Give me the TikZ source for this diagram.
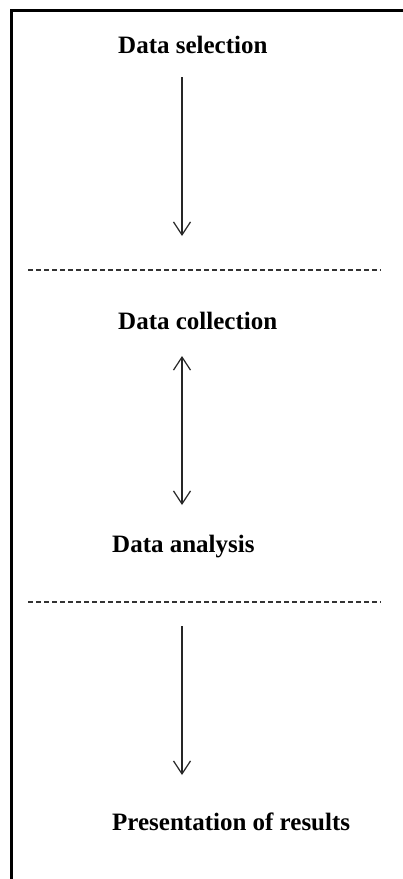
\documentclass[tikz,border=0pt]{standalone}
\usepackage{fontspec}
\setmainfont{Liberation Serif}
\usetikzlibrary{arrows.meta}
\begin{document}
\begin{tikzpicture}[x=1pt,y=-1pt,
  lbl/.style={anchor=base west,inner sep=0pt,font=\fontsize{25}{30}\selectfont\bfseries},
  conn/.style={line width=1.2pt,draw=black!85},
  tip/.style={Straight Barb[length=13pt,width=17pt,line width=1.2pt]},
  sep/.style={line width=1.6pt,draw=black!80,dash pattern=on 5.2pt off 2.8pt}]
\useasboundingbox (0,0) rectangle (403,879);
\fill[white] (0,0) rectangle (403,879);
% frame
\draw[line width=3pt] (11.5,879) -- (11.5,10.5) -- (403,10.5);
% labels
\node[lbl] (sel) at (118,53) {Data selection};
\node[lbl] (col) at (118,329) {Data collection};
\node[lbl] (ana) at (112,552) {Data analysis};
\node[lbl] (pre) at (112,830) {Presentation of results};
% connector ends
\coordinate (a1s) at (182,77);
\coordinate (a1e) at (182,236);
\coordinate (a2s) at (182,356);
\coordinate (a2e) at (182,505);
\coordinate (a3s) at (182,626);
\coordinate (a3e) at (182,775);
\draw[conn,-{Straight Barb[length=13pt,width=17pt]}] (a1s) -- (a1e);
\draw[conn,{Straight Barb[length=13pt,width=17pt]}-{Straight Barb[length=13pt,width=17pt]}] (a2s) -- (a2e);
\draw[conn,-{Straight Barb[length=13pt,width=17pt]}] (a3s) -- (a3e);
% separators
\coordinate (d1l) at (28,270);
\coordinate (d1r) at (381,270);
\coordinate (d2l) at (28,602);
\coordinate (d2r) at (381,602);
\draw[sep] (d1l) -- (d1r);
\draw[sep] (d2l) -- (d2r);
\end{tikzpicture}
\end{document}
